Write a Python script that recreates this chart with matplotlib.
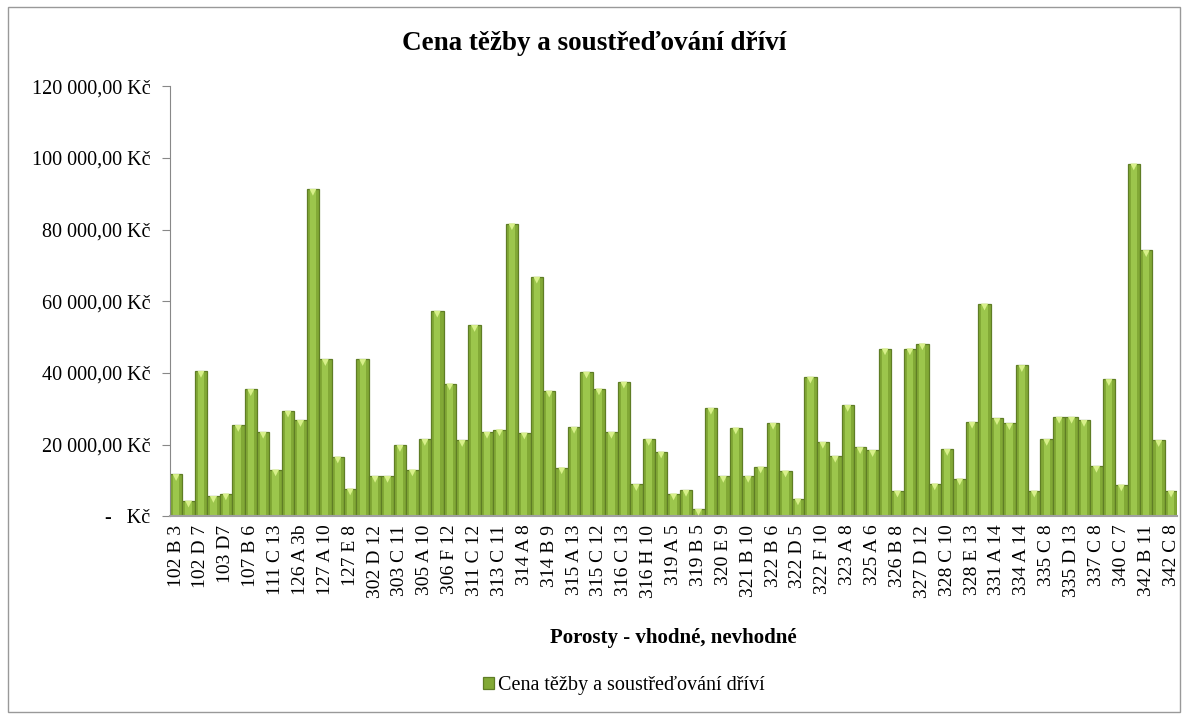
import matplotlib
matplotlib.use("Agg")
import matplotlib.pyplot as plt
from matplotlib.ticker import FuncFormatter, MultipleLocator
from matplotlib.patches import Rectangle

plt.rcParams['font.family'] = ['Liberation Serif', 'DejaVu Serif']

# every second stand is labelled on the axis
labels = ["102 B 3", "102 D 7", "103 D7", "107 B 6", "111 C 13", "126 A 3b",
          "127 A 10", "127 E 8", "302 D 12", "303 C 11", "305 A 10", "306 F 12",
          "311 C 12", "313 C 11", "314 A 8", "314 B 9", "315 A 13", "315 C 12",
          "316 C 13", "316 H 10", "319 A 5", "319 B 5", "320 E 9", "321 B 10",
          "322 B 6", "322 D 5", "322 F 10", "323 A 8", "325 A 6", "326 B 8",
          "327 D 12", "328 C 10", "328 E 13", "331 A 14", "334 A 14", "335 C 8",
          "335 D 13", "337 C 8", "340 C 7", "342 B 11", "342 C 8"]

# cost in Kč (thousands)
cost_k = [11.7, 4.3, 40.5, 5.6, 6.3, 25.4, 35.4, 23.5, 13.0, 29.4,
          26.8, 91.3, 43.8, 16.6, 7.7, 43.8, 11.2, 11.2, 19.8, 13.0,
          21.5, 57.3, 37.0, 21.2, 53.3, 23.5, 24.2, 81.7, 23.3, 66.8,
          35.0, 13.6, 24.9, 40.3, 35.6, 23.5, 37.5, 8.9, 21.5, 18.0,
          6.3, 7.3, 2.0, 30.2, 11.2, 24.7, 11.2, 13.8, 26.0, 12.7,
          4.9, 38.9, 20.7, 16.8, 31.0, 19.2, 18.4, 46.8, 7.1, 46.8,
          48.2, 9.1, 18.7, 10.5, 26.3, 59.3, 27.3, 25.9, 42.1, 7.1,
          21.5, 27.7, 27.7, 26.8, 14.0, 38.2, 8.8, 98.4, 74.2, 21.2, 7.1]
cost = [v * 1000 for v in cost_k]

series_name = "Cena těžby a soustřeďování dříví"

fig = plt.figure(figsize=(11.88, 7.19), dpi=100)
ax = fig.add_axes([0.143, 0.282, 0.848, 0.598])

x = list(range(len(cost)))
ax.bar(x, cost, width=1.0, color="#82a936", edgecolor="#5f7d25", linewidth=0.9,
       label=series_name)
# lighter middle stripe -> cylinder look
ax.bar(x, cost, width=0.5, color="#9cc64c", linewidth=0, zorder=2)
# light bevel on top of each bar
ax.scatter(x, [v - 900 for v in cost], marker="v", s=24, color="#d8f08a",
           edgecolors="none", zorder=3)

ax.set_xlim(-0.5, len(cost) - 0.5)
ax.set_ylim(0, 120000)
ax.yaxis.set_major_locator(MultipleLocator(20000))


def kc(v, pos):
    if v == 0:
        return "-   Kč"
    return "{:,.2f}".format(v).replace(",", " ").replace(".", ",") + " Kč"


ax.yaxis.set_major_formatter(FuncFormatter(kc))
ax.set_xticks(x[::2])
ax.set_xticklabels(labels, rotation=90, fontsize=14)
ax.tick_params(axis="x", length=0, pad=6)
ax.tick_params(axis="y", labelsize=14.5, length=6, color="#888888", pad=8)

for s in ["top", "right"]:
    ax.spines[s].set_visible(False)
ax.spines["left"].set_color("#888888")
ax.spines["bottom"].set_color("#a0a0a0")
ax.spines["bottom"].set_linewidth(1.5)

fig.text(0.5, 0.94, series_name, ha="center", va="center", fontsize=19.5,
         fontweight="bold")
ax.set_xlabel("Porosty - vhodné, nevhodné", fontsize=15, fontweight="bold",
              labelpad=22)

ax.legend(loc="center", bbox_to_anchor=(0.525, 0.046), bbox_transform=fig.transFigure,
          frameon=False, fontsize=14.5, handlelength=0.55, handleheight=0.55,
          handletextpad=0.2)

fig.patches.append(Rectangle((0.007, 0.01), 0.986, 0.98, transform=fig.transFigure,
                             fill=False, edgecolor="#999999", linewidth=1))

fig.savefig("out.png", dpi=100)
